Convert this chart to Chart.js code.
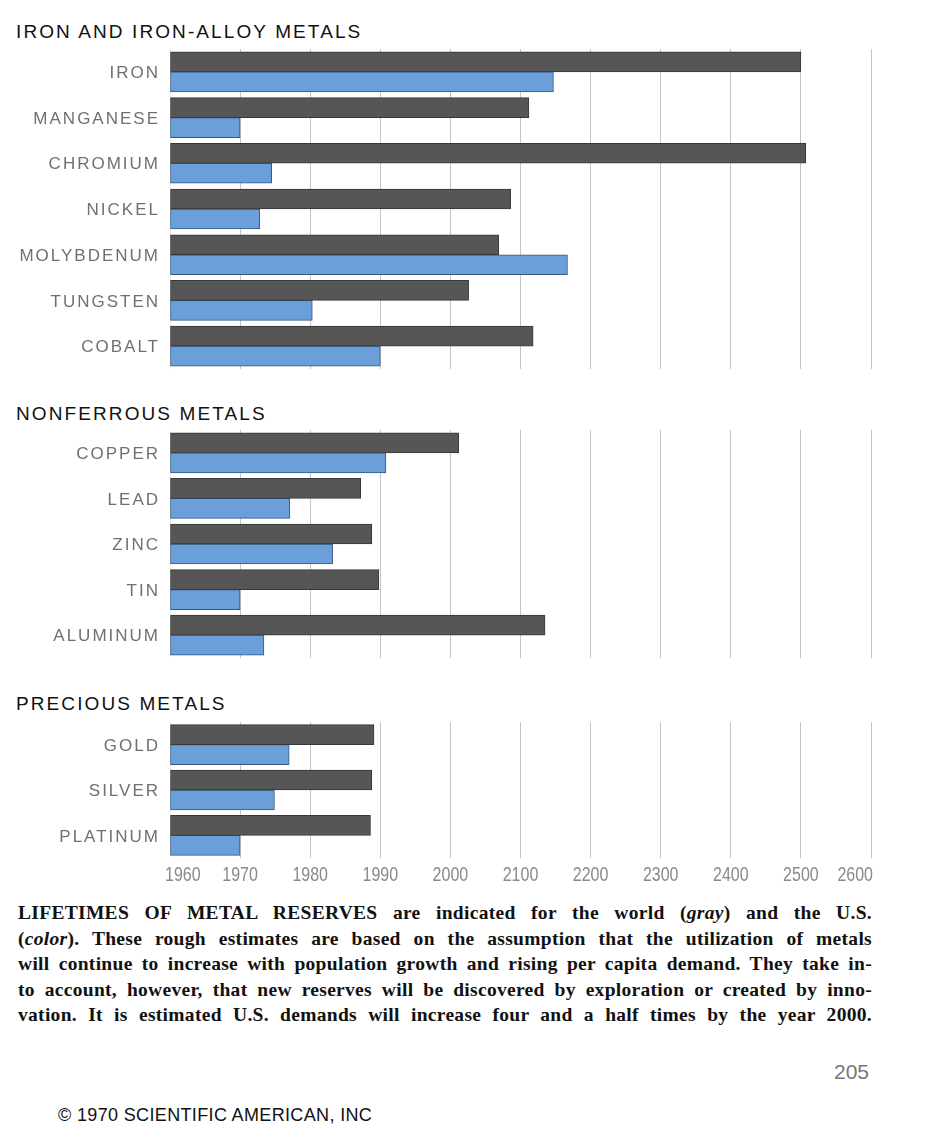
<!DOCTYPE html>
<html>
<head>
<meta charset="utf-8">
<script src="https://cdn.jsdelivr.net/npm/chart.js@4/dist/chart.umd.min.js"></script>
<style>
  html, body { margin: 0; padding: 0; background: #fff; }
  body { width: 942px; height: 1140px; position: relative; overflow: hidden; }
  .box { position: absolute; left: 0; width: 880px; }
  .title { position: absolute; left: 16px; font: 19px/20px "Liberation Sans", Arial, sans-serif;
           letter-spacing: 2.1px; color: #111; white-space: nowrap; }
  .caption { position: absolute; left: 18px; top: 900px; width: 854px;
             font: bold 19.5px/25.5px "Liberation Serif", "Times New Roman", serif;
             letter-spacing: 0.3px; color: #111; }
  .caption div { text-align: justify; text-align-last: justify; white-space: nowrap; }
  .page { position: absolute; left: 834px; top: 1060px; font: 21px "Liberation Sans", sans-serif; color: #777; }
  .copy { position: absolute; left: 58px; top: 1105px; font: 18px "Liberation Sans", sans-serif;
          letter-spacing: 0.35px; color: #111; }
</style>
</head>
<body>
<div class="title" style="top:22px">IRON AND IRON-ALLOY METALS</div>
<div class="box" style="top:49px;height:320px"><canvas id="c1"></canvas></div>

<div class="title" style="top:404px">NONFERROUS METALS</div>
<div class="box" style="top:430px;height:228px"><canvas id="c2"></canvas></div>

<div class="title" style="top:694px">PRECIOUS METALS</div>
<div class="box" style="top:722px;height:166px"><canvas id="c3"></canvas></div>

<div class="caption">
  <div>LIFETIMES OF METAL RESERVES are indicated for the world (<i>gray</i>) and the U.S.</div>
  <div>(<i>color</i>). These rough estimates are based on the assumption that the utilization of metals</div>
  <div>will continue to increase with population growth and rising per capita demand. They take in-</div>
  <div>to account, however, that new reserves will be discovered by exploration or created by inno-</div>
  <div>vation. It is estimated U.S. demands will increase four and a half times by the year 2000.</div>
</div>
<div class="page">205</div>
<div class="copy">© 1970 SCIENTIFIC AMERICAN, INC</div>

<script>
// tick years: evenly spaced on the axis (decades up to 2000, then centuries)
const tickYears = [1960, 1970, 1980, 1990, 2000, 2100, 2200, 2300, 2400, 2500, 2600];

const ironMetals = ['IRON', 'MANGANESE', 'CHROMIUM', 'NICKEL', 'MOLYBDENUM', 'TUNGSTEN', 'COBALT'];
const ironWorld = [2500, 2112, 2507, 2086, 2069, 2026, 2118];
const ironUS = [2147, 1970, 1974.5, 1972.8, 2167, 1980.3, 1990];

const nonferrousMetals = ['COPPER', 'LEAD', 'ZINC', 'TIN', 'ALUMINUM'];
const nonferrousWorld = [2012, 1987.2, 1988.8, 1989.8, 2135];
const nonferrousUS = [1990.8, 1977.1, 1983.2, 1970, 1973.4];

const preciousMetals = ['GOLD', 'SILVER', 'PLATINUM'];
const preciousWorld = [1989.1, 1988.8, 1988.6];
const preciousUS = [1977, 1974.9, 1970];

// year -> position on the piecewise axis (one unit per tick)
function yearToAxis(y) {
  for (let i = 1; i < tickYears.length; i++) {
    if (y <= tickYears[i]) {
      return i - 1 + (y - tickYears[i - 1]) / (tickYears[i] - tickYears[i - 1]);
    }
  }
  return tickYears.length - 1;
}

// metal names on the left, spaced out like the print
const labelPlugin = {
  id: 'metalLabels',
  afterDraw(chart) {
    const {ctx} = chart;
    const yScale = chart.scales.y;
    ctx.save();
    ctx.font = '17px "Liberation Sans", Arial, sans-serif';
    ctx.letterSpacing = '2px';
    ctx.fillStyle = '#707070';
    ctx.textAlign = 'right';
    ctx.textBaseline = 'middle';
    chart.data.labels.forEach((lab, i) => {
      ctx.fillText(lab, 160, yScale.getPixelForValue(i) + 1.5);
    });
    ctx.restore();
  }
};

// year ticks, drawn narrow (condensed face)
const yearTicks = {
  id: 'yearTicks',
  afterDraw(chart, args, opts) {
    if (!opts.show) return;
    const {ctx} = chart;
    const xs = chart.scales.x;
    const y = chart.chartArea.bottom + 17;
    const sx = 0.8;
    ctx.save();
    ctx.font = '20px "Liberation Sans", Arial, sans-serif';
    ctx.fillStyle = '#8a8a8a';
    ctx.textBaseline = 'middle';
    const last = xs.ticks.length - 1;
    xs.ticks.forEach((t, i) => {
      const px = xs.getPixelForTick(i);
      ctx.save();
      ctx.translate(px, y);
      ctx.scale(sx, 1);
      ctx.textAlign = i === 0 ? 'left' : (i === last ? 'right' : 'center');
      const dx = i === 0 ? -5 / sx : (i === last ? 2 / sx : 0);
      ctx.fillText(String(tickYears[t.value]), dx, 0);
      ctx.restore();
    });
    ctx.restore();
  }
};

function makeChart(id, labels, world, us, showTicks) {
  const ctx = document.getElementById(id).getContext('2d');
  return new Chart(ctx, {
    type: 'bar',
    data: {
      labels: labels,
      datasets: [
        {
          label: 'World',
          data: world.map(yearToAxis),
          backgroundColor: '#565656',
          borderColor: '#383838',
          borderWidth: 1,
          borderSkipped: false,
          barThickness: 20
        },
        {
          label: 'U.S.',
          data: us.map(yearToAxis),
          backgroundColor: '#6b9fda',
          borderColor: '#34587f',
          borderWidth: 1,
          borderSkipped: false,
          barThickness: 20
        }
      ]
    },
    options: {
      indexAxis: 'y',
      responsive: true,
      maintainAspectRatio: false,
      animation: false,
      layout: {padding: {left: 0, right: 9, top: 0, bottom: 0}},
      scales: {
        x: {
          type: 'linear',
          min: 0,
          max: tickYears.length - 1,
          border: {display: false},
          grid: {
            drawTicks: false,
            color: (c) => c.index === 0 ? 'rgba(0,0,0,0.08)' : '#c4c4c4',
            lineWidth: 1
          },
          ticks: {
            display: false,
            stepSize: 1,
            autoSkip: false
          },
          afterFit: (scale) => { scale.height = showTicks ? 30 : 0; }
        },
        y: {
          border: {display: false},
          grid: {display: false},
          ticks: {display: false},
          afterFit: (scale) => { scale.width = 170; }
        }
      },
      plugins: {
        legend: {display: false},
        tooltip: {enabled: false},
        yearTicks: {show: showTicks}
      }
    },
    plugins: [labelPlugin, yearTicks]
  });
}

makeChart('c1', ironMetals, ironWorld, ironUS, false);
makeChart('c2', nonferrousMetals, nonferrousWorld, nonferrousUS, false);
makeChart('c3', preciousMetals, preciousWorld, preciousUS, true);
</script>
</body>
</html>
